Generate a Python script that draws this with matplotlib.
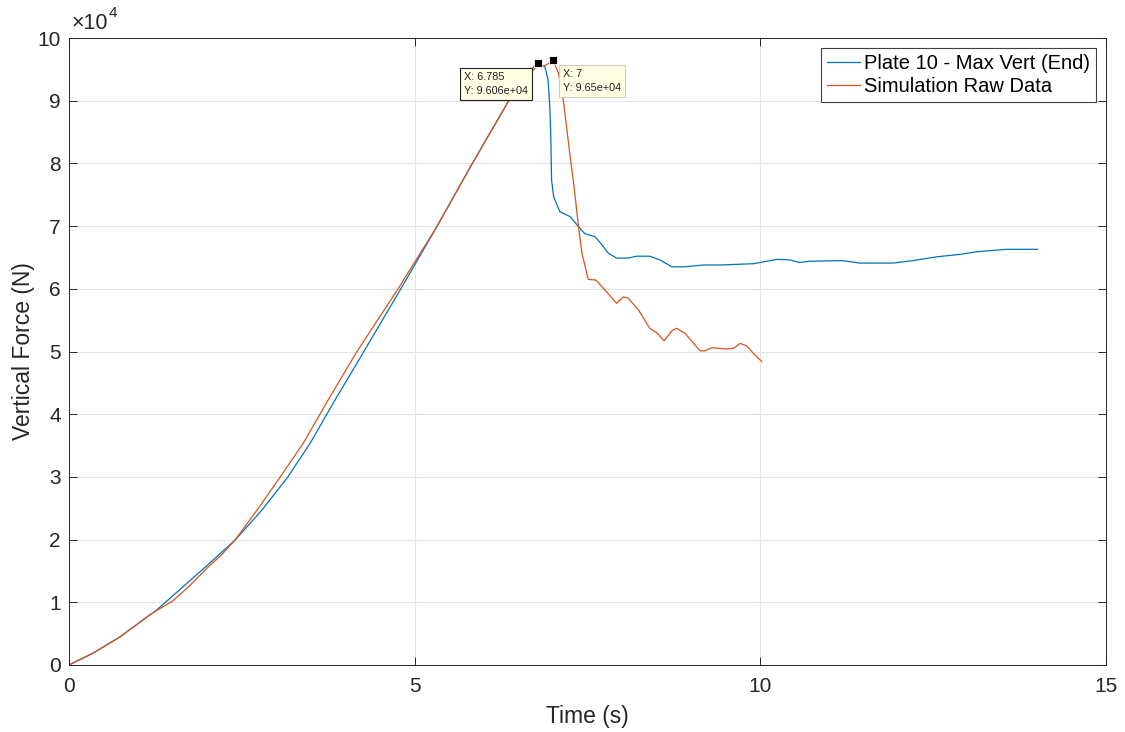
import matplotlib
matplotlib.use("Agg")
import matplotlib.pyplot as plt
from matplotlib.ticker import FuncFormatter

plt.rcParams['font.family'] = ['Liberation Sans', 'DejaVu Sans']

# Measured vertical force on plate 10 (time in s, force in N)
plate_t = [0, 0.35, 0.74, 1.17, 1.24, 1.60, 2.00, 2.40, 2.79, 3.16, 3.49, 3.85,
           4.26, 4.80, 5.32, 5.83, 6.35, 6.72, 6.785, 6.885, 6.93, 6.955, 6.97,
           6.98, 7.01, 7.10, 7.25, 7.37, 7.46, 7.61, 7.71, 7.80, 7.92, 8.09,
           8.21, 8.40, 8.55, 8.72, 8.89, 9.18, 9.42, 9.90, 10.24, 10.43, 10.57,
           10.72, 11.18, 11.44, 11.92, 12.21, 12.55, 12.89, 13.13, 13.56, 14.01]
plate_f = [0, 1900, 4500, 8000, 8500, 12000, 15900, 19900, 24700, 29900, 35400,
           42300, 49900, 60000, 69900, 79900, 89800, 95400, 96060, 95400, 93300,
           89000, 84000, 77400, 74700, 72300, 71500, 69900, 68800, 68300, 67000,
           65700, 64900, 64900, 65200, 65200, 64600, 63500, 63500, 63800, 63800,
           64000, 64700, 64600, 64200, 64400, 64500, 64100, 64100, 64500, 65100,
           65500, 65900, 66300, 66300]

# Simulated vertical force
sim_t = [0, 0.35, 0.74, 1.17, 1.24, 1.50, 1.75, 2.00, 2.20, 2.40, 2.72, 3.05,
         3.39, 3.75, 4.16, 4.76, 5.32, 5.83, 6.35, 6.74, 6.88, 6.95, 7.00, 7.08,
         7.15, 7.25, 7.30, 7.37, 7.42, 7.51, 7.62, 7.73, 7.92, 8.02, 8.09, 8.24,
         8.40, 8.50, 8.61, 8.72, 8.79, 8.91, 9.13, 9.20, 9.30, 9.51, 9.61, 9.71,
         9.80, 9.90, 10.02]
sim_f = [0, 1900, 4500, 8000, 8500, 10200, 12700, 15500, 17500, 19900, 24700,
         29900, 35400, 42300, 49900, 60000, 69900, 79900, 89800, 95200, 95600,
         96000, 96500, 94400, 90100, 81000, 76800, 69900, 65700, 61500, 61400,
         60100, 57700, 58700, 58500, 56600, 53700, 53000, 51700, 53300, 53700,
         52900, 50100, 50100, 50600, 50400, 50500, 51300, 50900, 49700, 48400]

series_labels = ["Plate 10 - Max Vert (End)", "Simulation Raw Data"]
x_ticks = [0, 5, 10, 15]
y_ticks = [0, 10000, 20000, 30000, 40000, 50000, 60000, 70000, 80000, 90000, 100000]

# Data tips: (x, y) of the selected points
tip_plate = (6.785, 96060)
tip_sim = (7.0, 96500)

BLUE = '#0072BD'
ORANGE = '#D95319'
AXC = '#262626'

fig = plt.figure(figsize=(11.25, 7.32), dpi=100)
ax = fig.add_axes([69 / 1125, 67 / 732, 1037 / 1125, 627 / 732])

ax.plot(plate_t, plate_f, color=BLUE, lw=0.9, label=series_labels[0])
ax.plot(sim_t, sim_f, color=ORANGE, lw=0.9, label=series_labels[1])

ax.set_xlim(0, 15)
ax.set_ylim(0, 100000)
ax.set_xticks(x_ticks)
ax.set_yticks(y_ticks)
ax.yaxis.set_major_formatter(FuncFormatter(lambda v, p: f"{v / 1e4:g}"))

ax.grid(True, color='#e3e3e3', lw=0.8)
ax.set_axisbelow(True)
for s in ax.spines.values():
    s.set_color(AXC)
    s.set_linewidth(0.7)
ax.tick_params(direction='in', top=True, right=True, length=6, width=0.7,
               color=AXC, labelcolor=AXC, labelsize=15)
ax.tick_params(axis='x', pad=9)
ax.tick_params(axis='y', pad=6)

ax.set_xlabel("Time (s)", fontsize=16.5, color=AXC, labelpad=6)
ax.set_ylabel("Vertical Force (N)", fontsize=16.5, color=AXC, labelpad=2)

# exponent label above the y axis
ax.annotate("\u00d710", xy=(0, 1), xycoords='axes fraction', xytext=(2, 3),
            textcoords='offset points', ha='left', va='bottom', fontsize=15.5,
            color=AXC)
ax.annotate("4", xy=(0, 1), xycoords='axes fraction', xytext=(28.5, 13),
            textcoords='offset points', ha='left', va='bottom', fontsize=11,
            color=AXC)

leg = ax.legend(loc='upper right', fontsize=14.5, frameon=True, fancybox=False,
                edgecolor='#404040', borderaxespad=0.5, handlelength=1.65,
                handletextpad=0.2, borderpad=0.3, labelspacing=0.2)
leg.get_frame().set_linewidth(0.8)
leg.get_frame().set_alpha(1)

# data tips
ax.plot(*tip_plate, marker='s', ms=5.5, color='black', mec='white', mew=0.6,
        zorder=6)
ax.plot(*tip_sim, marker='s', ms=5.5, color='black', mec='white', mew=0.6,
        zorder=6)
tip_box = dict(boxstyle='square,pad=0.4', fc='#ffffe6', lw=0.8)
ax.annotate(f"X: {tip_plate[0]:g}\nY: {tip_plate[1]:.4g}",
            xy=tip_plate, xytext=(-7.3, -7.0), textcoords='offset points',
            ha='right', va='top', multialignment='left', fontsize=7.8,
            color='#222222', linespacing=1.45,
            bbox=dict(tip_box, ec='#222222'), zorder=7)
ax.annotate(f"X: {tip_sim[0]:g}\nY: {tip_sim[1]:.4g}",
            xy=tip_sim, xytext=(7.2, -6.7), textcoords='offset points',
            ha='left', va='top', multialignment='left', fontsize=7.8,
            color='#222222', linespacing=1.45,
            bbox=dict(tip_box, ec='#d0d0c0'), zorder=7)

fig.savefig("out.png", dpi=100, facecolor='white')
